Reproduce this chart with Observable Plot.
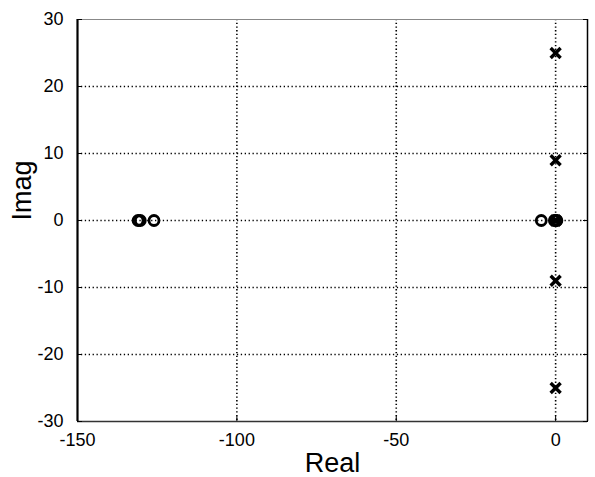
<!DOCTYPE html>
<html>
<head>
<meta charset="utf-8">
<script src="https://cdn.jsdelivr.net/npm/d3@7"></script>
<script src="https://cdn.jsdelivr.net/npm/@observablehq/plot@0.6"></script>
<style>
  html, body { margin: 0; padding: 0; background: #fff; overflow: hidden; }
  #chart svg { display: block; }
</style>
</head>
<body>
<div id="chart"></div>
<script>
// Zeros (circles) and poles (crosses) of the pole-zero map
const zeroReal = [-131, -130.3, -126, -4.5, -0.4, 0, 0.4];
const zeroImag = [0, 0, 0, 0, 0, 0, 0];
const poleReal = [0, 0, 0, 0, 0];
const poleImag = [25, 9, 0, -9, -25];

const xDomain = [-150, 10];
const yDomain = [-30, 30];
const xTicks = [-150, -100, -50, 0];
const yTicks = [-30, -20, -10, 0, 10, 20, 30];
const xLabel = "Real";
const yLabel = "Imag";

const zeros = zeroReal.map((re, i) => ({re, im: zeroImag[i]}));
const poles = poleReal.map((re, i) => ({re, im: poleImag[i]}));
const fmt = d => String(d);

const chart = Plot.plot({
  width: 595,
  height: 477,
  marginLeft: 77,
  marginRight: 8,
  marginTop: 19,
  marginBottom: 56,
  style: {fontFamily: "'Liberation Sans', Arial, sans-serif", background: "#fff", color: "#000"},
  x: {domain: xDomain},
  y: {domain: yDomain},
  marks: [
    Plot.gridX(xTicks.filter(d => d !== xDomain[0]), {stroke: "#000", strokeOpacity: 1, strokeWidth: 1.6, strokeDasharray: "1.3,2.4"}),
    Plot.gridY(yTicks.filter(d => d !== yDomain[0] && d !== yDomain[1]), {stroke: "#000", strokeOpacity: 1, strokeWidth: 1.4, strokeDasharray: "1.3,2.6"}),
    // frame
    Plot.ruleY([yDomain[1]], {stroke: "#888", strokeWidth: 1.2}),
    Plot.ruleX([xDomain[1]], {stroke: "#000", strokeWidth: 1.5}),
    Plot.ruleY([yDomain[0]], {stroke: "#333", strokeWidth: 1.5}),
    Plot.ruleX([xDomain[0]], {stroke: "#000", strokeWidth: 2.2}),
    Plot.axisX(xTicks, {anchor: "bottom", tickSize: -5, tickPadding: 17, fontSize: 18, tickFormat: fmt, label: null}),
    Plot.axisY(yTicks, {anchor: "left", tickSize: -5, tickPadding: 19, fontSize: 18, tickFormat: fmt, label: null}),
    Plot.axisY(yTicks, {anchor: "right", tickSize: -5, tickFormat: () => "", label: null}),
    Plot.text([xLabel], {frameAnchor: "bottom", dy: 50, fontSize: 27, text: d => d}),
    Plot.text([yLabel], {frameAnchor: "left", dx: -55, rotate: -90, fontSize: 27, text: d => d}),
    Plot.dot(zeros, {x: "re", y: "im", r: 5, stroke: "#000", strokeWidth: 2.8, fill: "none"}),
    Plot.dot(poles, {x: "re", y: "im", symbol: "times", r: 4.6, stroke: "#000", strokeWidth: 3.4})
  ]
});
document.getElementById("chart").appendChild(chart);
</script>
</body>
</html>
